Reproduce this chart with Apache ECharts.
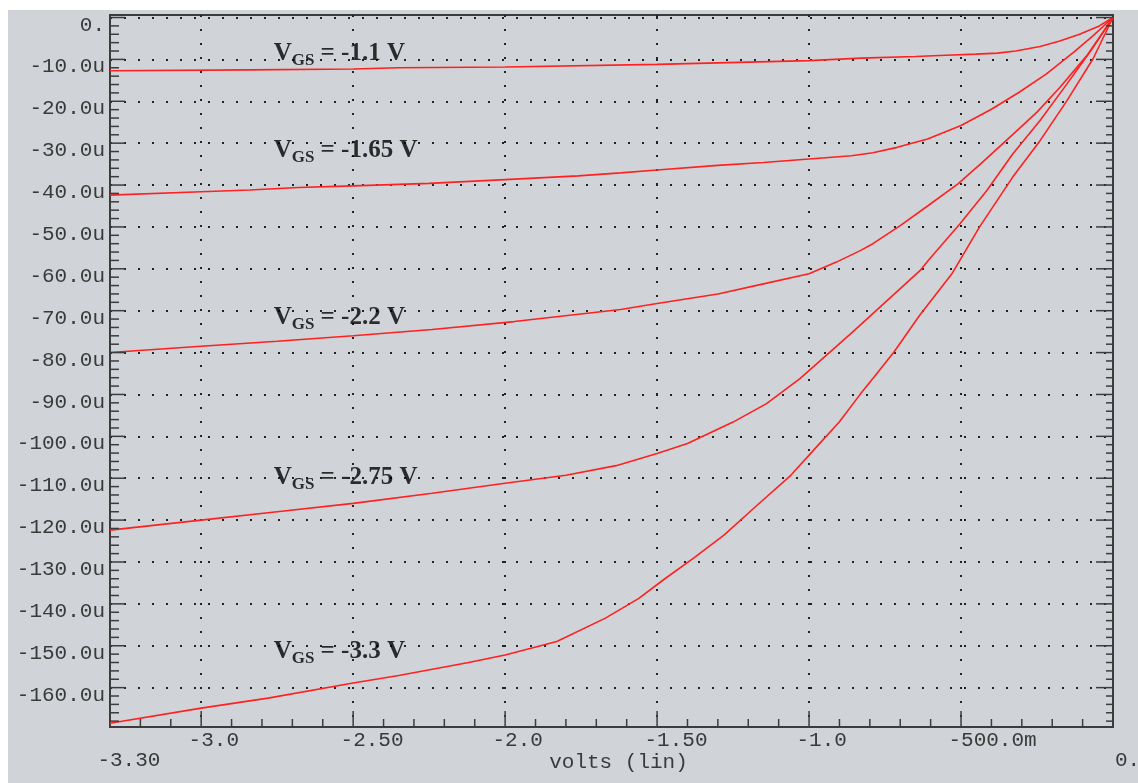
<!DOCTYPE html>
<html>
<head>
<meta charset="utf-8">
<script src="https://cdn.jsdelivr.net/npm/echarts@6/dist/echarts.min.js"></script>
<style>
html,body{margin:0;padding:0;background:#ffffff;}
#bg{position:absolute;left:8px;top:10px;width:1130px;height:773px;background:#d0d4d8;}
#c{position:absolute;left:0;top:0;width:1138px;height:783px;}
</style>
</head>
<body>
<div id="bg"></div>
<div id="c"></div>
<script>
// ---- tick labels ----
const xLabelValues = [-3.3, -3.0, -2.5, -2.0, -1.5, -1.0, -0.5, 0];
const xLabelTexts  = ['-3.30', '-3.0', '-2.50', '-2.0', '-1.50', '-1.0', '-500.0m', '0.'];
const xMajorTicks  = [-3.0, -2.5, -2.0, -1.5, -1.0, -0.5];
const yLabelValues = [0, -10, -20, -30, -40, -50, -60, -70, -80, -90, -100, -110, -120, -130, -140, -150, -160];
const yLabelTexts  = ['0.', '-10.0u', '-20.0u', '-30.0u', '-40.0u', '-50.0u', '-60.0u', '-70.0u', '-80.0u',
                      '-90.0u', '-100.0u', '-110.0u', '-120.0u', '-130.0u', '-140.0u', '-150.0u', '-160.0u'];
const xMinorTicks = [];
for (let t = 1; t < 33; t++) { if (t % 5 !== 3) xMinorTicks.push(-3.3 + t * 0.1); }
const yMinorTicks = [];
for (let t = -168; t < 0; t += 2) { if (t % 10 !== 0) yMinorTicks.push(t); }

// ---- series data: drain voltage (V) and drain current (uA) ----
const vds1 = [-3.3, -2.84, -2.5, -2.35, -2.0, -1.5, -1.0, -0.83, -0.65, -0.55, -0.45, -0.38, -0.32, -0.24, -0.175, -0.11, -0.045, 0];
const id1  = [-12.7, -12.5, -12.3, -12.0, -11.8, -11.2, -10.3, -9.7, -9.3, -9.0, -8.75, -8.5, -8.0, -6.9, -5.6, -4.0, -2.0, 0];

const vds2 = [-3.3, -3.0, -2.84, -2.68, -2.5, -2.25, -2.0, -1.76, -1.62, -1.5, -1.3, -1.15, -1.0, -0.86, -0.79, -0.71, -0.61, -0.5, -0.4, -0.31, -0.22, -0.13, -0.066, 0];
const id2  = [-42.4, -41.6, -41.2, -40.6, -40.2, -39.6, -38.7, -37.8, -37.1, -36.4, -35.3, -34.6, -33.8, -33.0, -32.3, -31.0, -29.0, -25.8, -21.9, -17.9, -13.5, -8.3, -4.4, 0];

const vds3 = [-3.3, -3.0, -2.75, -2.5, -2.24, -1.97, -1.62, -1.5, -1.3, -1.15, -1.0, -0.91, -0.83, -0.79, -0.7, -0.61, -0.51, -0.43, -0.34, -0.25, -0.175, -0.086, 0];
const id3  = [-80.0, -78.5, -77.3, -76.0, -74.5, -72.6, -69.7, -68.3, -66.0, -63.6, -61.2, -58.4, -55.6, -54.0, -49.7, -45.0, -39.7, -34.6, -28.6, -22.6, -16.7, -9.1, 0];

const vds4 = [-3.3, -3.0, -2.75, -2.5, -2.24, -2.0, -1.8, -1.635, -1.5, -1.4, -1.25, -1.14, -1.03, -0.857, -0.636, -0.603, -0.504, -0.415, -0.33, -0.24, -0.152, -0.066, 0];
const id4  = [-122.4, -120.0, -118.0, -116.0, -113.6, -111.2, -109.3, -107.0, -104.1, -101.7, -96.6, -92.2, -86.2, -75.1, -60.5, -57.6, -49.3, -41.3, -32.6, -24.6, -15.9, -7.2, 0];

const vds5 = [-3.3, -3.0, -2.78, -2.5, -2.35, -2.12, -2.0, -1.83, -1.67, -1.56, -1.48, -1.38, -1.28, -1.17, -1.06, -0.97, -0.9, -0.83, -0.79, -0.72, -0.636, -0.53, -0.44, -0.33, -0.24, -0.152, -0.066, 0];
const id5  = [-168.5, -164.9, -162.5, -158.9, -157.1, -154.0, -152.2, -149.0, -143.4, -138.7, -134.3, -129.1, -123.6, -116.4, -109.3, -102.1, -96.5, -89.8, -86.2, -79.8, -71.1, -61.2, -50.1, -38.1, -29.4, -19.9, -9.9, 0];

// ---- curve annotations (gate-source voltage) ----
const vgsTexts   = ['-1.1 V', '-1.65 V', '-2.2 V', '-2.75 V', '-3.3 V'];
const annotX     = [-2.76, -2.76, -2.76, -2.76, -2.76];
const annotY     = [-9.9, -33.1, -72.9, -111.2, -152.7];

const curves = [[vds1, id1], [vds2, id2], [vds3, id3], [vds4, id4], [vds5, id5]];

const monoFont = 'Liberation Mono';
const labelColor = '#3a3a3a';
const frameColor = '#3c3c3c';
const XMIN = -3.3, XMAX = 0, YMIN = -169.4, YMAX = 0.6;

function xLabel(v) {
  for (let k = 0; k < xLabelValues.length; k++) {
    if (Math.abs(xLabelValues[k] - v) < 1e-6) {
      const txt = xLabelTexts[k];
      if (k === 0) return '{lo|' + txt + '}';
      if (k === xLabelValues.length - 1) return '{z|' + txt + '}';
      return '{up|' + txt + '}';
    }
  }
  return '';
}
function yLabel(v) {
  for (let k = 0; k < yLabelValues.length; k++) {
    if (Math.abs(yLabelValues[k] - v) < 1e-6) return yLabelTexts[k];
  }
  return '';
}
function rs(pad) { return {fontFamily: monoFont, fontSize: 21, color: labelColor, padding: pad}; }
function annFont(size, extra) {
  return Object.assign({fontFamily: 'Liberation Serif', fontWeight: 'bold', color: '#000', fontSize: size, lineHeight: size, verticalAlign: 'top'}, extra || {});
}

// tick marks placed through the axis scales (api.coord), drawn as thin filled bars
function tickSeries(values, side, len) {
  return {
    type: 'custom', coordinateSystem: 'cartesian2d', silent: true, clip: false, z: 8,
    data: values.map(function (v) { return side === 'bottom' ? [v, YMIN] : [side === 'left' ? XMIN : XMAX, v]; }),
    renderItem: function (params, api) {
      const p = api.coord([api.value(0), api.value(1)]);
      let shape;
      if (side === 'bottom') shape = {x: p[0] - 0.75, y: p[1] - len, width: 1.5, height: len};
      else if (side === 'left') shape = {x: p[0], y: p[1] - 0.75, width: len, height: 1.5};
      else shape = {x: p[0] - len, y: p[1] - 0.75, width: len, height: 1.5};
      return {type: 'rect', shape: shape, style: {fill: frameColor, stroke: null, lineWidth: 0}};
    }
  };
}

const chart = echarts.init(document.getElementById('c'));

const option = {
  animation: false,
  grid: {left: 110, right: 25, top: 15, bottom: 56, outerBoundsMode: 'none', show: true, borderColor: frameColor, borderWidth: 2},
  xAxis: {
    type: 'value', min: XMIN, max: XMAX, position: 'bottom',
    name: 'volts (lin)', nameLocation: 'middle', nameGap: 25, nameMoveOverlap: false,
    nameTextStyle: {fontFamily: monoFont, fontSize: 21, color: labelColor, padding: [0, 0, 0, 14], verticalAlign: 'top'},
    axisLine: {show: true, onZero: false, lineStyle: {color: frameColor, width: 2}},
    axisTick: {show: false, customValues: xMajorTicks},
    axisLabel: {
      show: true, customValues: xLabelValues, margin: 3, align: 'left', verticalAlign: 'top',
      fontFamily: monoFont, fontSize: 21, color: labelColor,
      formatter: xLabel,
      rich: {up: rs([0, 0, 0, -12.6]), lo: rs([20, 0, 0, -12.6]), z: rs([20, 0, 0, 2])}
    },
    splitLine: {show: true, lineStyle: {color: '#222', width: 2, type: [2, 12]}}
  },
  yAxis: {
    type: 'value', min: YMIN, max: YMAX, position: 'left',
    axisLine: {show: true, onZero: false, lineStyle: {color: frameColor, width: 2}},
    axisTick: {show: false, customValues: yLabelValues},
    axisLabel: {
      show: true, customValues: yLabelValues, margin: 5, verticalAlign: 'top', padding: [-3, 0, 0, 0],
      fontFamily: monoFont, fontSize: 21, color: labelColor, formatter: yLabel
    },
    splitLine: {show: true, lineStyle: {color: '#222', width: 2, type: [2, 12]}}
  },
  series: [
    tickSeries(xMajorTicks, 'bottom', 16),
    tickSeries(xMinorTicks, 'bottom', 8),
    tickSeries(yLabelValues, 'left', 15),
    tickSeries(yMinorTicks, 'left', 9),
    tickSeries(yLabelValues, 'right', 17),
    tickSeries(yMinorTicks, 'right', 7)
  ].concat(curves.map(function (c, n) {
    return {
      type: 'line', name: 'VGS ' + vgsTexts[n],
      data: c[0].map(function (x, k) { return [x, c[1][k]]; }),
      symbol: 'none', showSymbol: false, silent: true, z: 5,
      lineStyle: {color: '#ff2020', width: 1.6}
    };
  })).concat([{
    type: 'scatter', silent: true, z: 6,
    symbolSize: 1, itemStyle: {color: 'rgba(0,0,0,0)'},
    data: annotX.map(function (x, k) { return [x, annotY[k]]; }),
    label: {
      show: true, position: [0, -17.5], align: 'left', verticalAlign: 'top',
      formatter: function (p) { return '{v|V}{s|GS}{t| = ' + vgsTexts[p.dataIndex] + '}'; },
      rich: {
        v: annFont(25),
        s: annFont(17, {padding: [11, 0, 0, 0]}),
        t: annFont(25)
      }
    }
  }])
};
chart.setOption(option);
</script>
</body>
</html>
